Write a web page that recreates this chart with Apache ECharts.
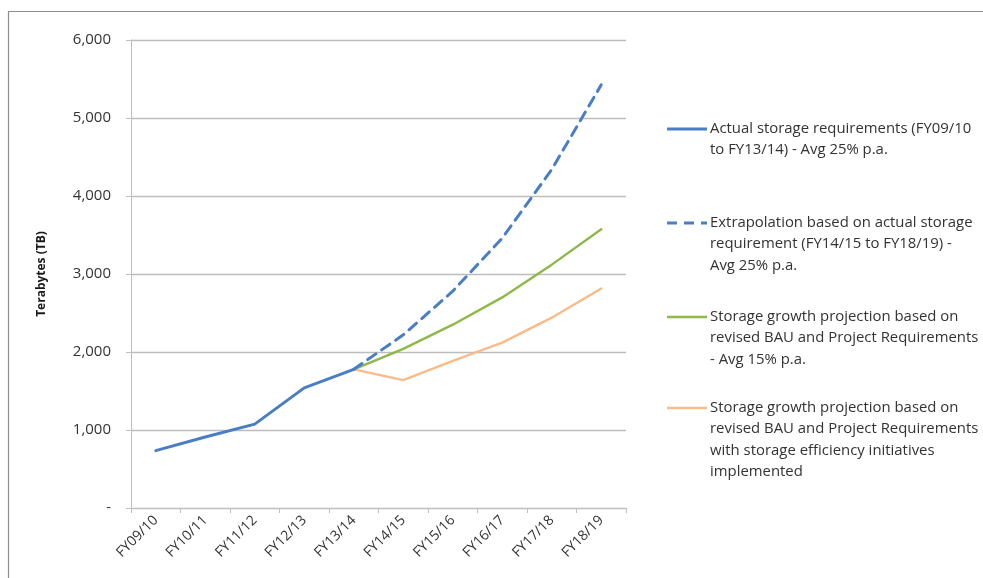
<!DOCTYPE html>
<html>
<head>
<meta charset="utf-8">
<title>Storage requirements</title>
<script src="https://cdn.jsdelivr.net/npm/echarts@6/dist/echarts.min.js"></script>
<style>
  html, body { margin: 0; padding: 0; background: #ffffff; }
  #chart { width: 983px; height: 578px; }
</style>
</head>
<body>
<div id="chart"></div>
<script>
// Financial years on the x axis
var years = ['FY09/10', 'FY10/11', 'FY11/12', 'FY12/13', 'FY13/14',
             'FY14/15', 'FY15/16', 'FY16/17', 'FY17/18', 'FY18/19'];

// Terabytes per year for each scenario
var actual        = [735, 910, 1075, 1540, 1778, null, null, null, null, null];
var extrapolation = [null, null, null, null, 1778, 2220, 2780, 3460, 4340, 5425];
var revised       = [null, null, null, null, 1778, 2040, 2350, 2700, 3120, 3575];
var efficiency    = [null, null, null, null, 1778, 1640, 1885, 2120, 2440, 2815];

// Y axis ticks
var yTicks = [0, 1000, 2000, 3000, 4000, 5000, 6000];

var seriesNames = [
  'Actual storage requirements (FY09/10\nto FY13/14) - Avg 25% p.a.',
  'Extrapolation based on actual storage\nrequirement (FY14/15 to FY18/19) -\nAvg 25% p.a.',
  'Storage growth projection based on\nrevised BAU and Project Requirements\n- Avg 15% p.a.',
  'Storage growth projection based on\nrevised BAU and Project Requirements\nwith storage efficiency initiatives\nimplemented'
];

var colors = ['#4A7EC4', '#4A7EC4', '#8DB84A', '#F9BB8A'];
var dashed = [false, true, false, false];
var widths = [3, 3, 2.4, 2.4];
var seriesData = [actual, extrapolation, revised, efficiency];

var FONT = '"Open Sans", "Liberation Sans", sans-serif';

var chart = echarts.init(document.getElementById('chart'), null, { renderer: 'canvas' });

// Legend block on the right: a short line sample followed by wrapped text
var legendTops = [129, 223, 317, 408];
var legendGraphics = [];
seriesNames.forEach(function (name, i) {
  legendGraphics.push({
    type: 'line',
    shape: { x1: 667, y1: legendTops[i], x2: 707, y2: legendTops[i] },
    style: {
      stroke: colors[i],
      lineWidth: widths[i],
      lineDash: dashed[i] ? [10, 7] : null
    }
  });
  legendGraphics.push({
    type: 'text',
    left: 710,
    top: legendTops[i] - 11,
    style: {
      text: name,
      fill: '#333333',
      font: '14.9px ' + FONT,
      lineHeight: 21.5
    }
  });
});

// Outer frame
legendGraphics.push({
  type: 'rect',
  shape: { x: 8.5, y: 11.5, width: 1000, height: 600 },
  style: { fill: null, stroke: '#8c8c8c', lineWidth: 1.2 },
  silent: true
});

var option = {
  backgroundColor: '#ffffff',
  animation: false,
  grid: { left: 131, right: 357, top: 40, bottom: 70, containLabel: false },
  xAxis: {
    type: 'category',
    data: years,
    boundaryGap: true,
    axisLine: { show: true, lineStyle: { color: '#BFBFBF', width: 1 } },
    axisTick: { show: true, alignWithLabel: false, length: 5, lineStyle: { color: '#BFBFBF' } },
    axisLabel: {
      rotate: 45,
      margin: 10,
      color: '#333333',
      fontFamily: FONT,
      fontSize: 14
    },
    splitLine: { show: false }
  },
  yAxis: {
    type: 'value',
    min: yTicks[0],
    max: yTicks[yTicks.length - 1],
    interval: 1000,
    name: 'Terabytes (TB)',
    nameLocation: 'middle',
    nameGap: 83,
    nameRotate: 90,
    nameTextStyle: { color: '#1a1a1a', fontFamily: FONT, fontSize: 12, fontWeight: 'bold' },
    axisLine: { show: true, lineStyle: { color: '#BFBFBF', width: 1 } },
    axisTick: { show: true, length: 5, lineStyle: { color: '#BFBFBF' } },
    axisLabel: {
      margin: 20,
      color: '#333333',
      fontFamily: FONT,
      fontSize: 15,
      formatter: function (v) {
        return v === 0 ? '-' : v.toLocaleString('en-US');
      }
    },
    splitLine: { show: true, lineStyle: { color: '#BDBDBD', width: 1.3 } }
  },
  series: seriesData.map(function (d, i) {
    return {
      name: seriesNames[i],
      type: 'line',
      data: d,
      symbol: 'none',
      smooth: false,
      connectNulls: false,
      z: 10 - i,
      lineStyle: {
        color: colors[i],
        width: widths[i],
        type: dashed[i] ? [10, 7] : 'solid',
        cap: 'round'
      }
    };
  }),
  graphic: legendGraphics
};

chart.setOption(option);
</script>
</body>
</html>
